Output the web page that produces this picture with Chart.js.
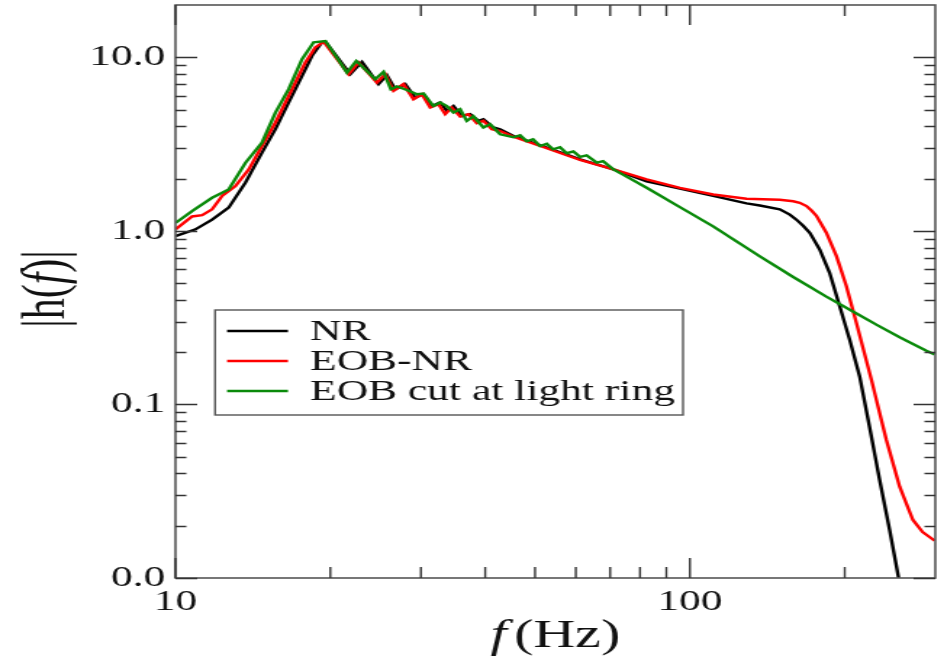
<!DOCTYPE html>
<html>
<head>
<meta charset="utf-8">
<script src="https://cdn.jsdelivr.net/npm/chart.js@4.4.0/dist/chart.umd.min.js"></script>
<style>
  html, body { margin: 0; padding: 0; background: #fff; overflow: hidden; }
  #wrap { width: 944px; height: 667px; }
  /* the original figure is stretched sideways, so the canvas is too */
  #chart { transform: scaleX(1.4501); transform-origin: 0 0; }
</style>
</head>
<body>
<div id="wrap"><canvas id="chart" width="651" height="667"></canvas></div>
<script>
// NR (numerical relativity)
const nrFreq = [10, 10.94, 11.78, 12.69, 13.68, 14.73, 15.64, 16.60, 17.62, 18.43,
  19.27, 19.56, 21.87, 23.04, 24.82, 25.77, 26.74, 27.97, 29.24, 30.35,
  31.51, 32.70, 33.69, 34.70, 36.03, 37.39, 38.80, 39.68, 41.50, 42.77,
  45.39, 52.69, 61.16, 71.02, 82.41, 95.63, 110.97, 128.86, 136.8, 149.5,
  156.4, 161.1, 166.0, 171.0, 178.8, 186.9, 195.5, 204.5, 213.8, 223.6,
  233.8, 244.5, 254.5];
const nrAmp = [0.933, 1.02, 1.16, 1.36, 1.90, 2.82, 3.85, 5.49, 7.81, 10.2,
  12.2, 12.3, 7.99, 9.41, 7.00, 7.88, 6.54, 7.00, 5.86, 6.12,
  5.24, 5.49, 4.91, 5.24, 4.59, 4.70, 4.30, 4.39, 3.94, 3.85,
  3.52, 3.02, 2.58, 2.26, 1.93, 1.75, 1.59, 1.44, 1.40, 1.33,
  1.24, 1.16, 1.07, 0.975, 0.781, 0.573, 0.368, 0.236, 0.145, 0.0734,
  0.0368, 0.0189, 0.01];

// EOB-NR
const eobFreq = [10, 10.77, 11.27, 11.78, 12.32, 13.08, 13.88, 14.73, 15.64, 16.85,
  17.88, 18.70, 19.41, 21.71, 22.69, 24.64, 25.57, 26.54, 27.75, 29.02,
  30.13, 31.27, 32.46, 33.44, 34.45, 35.76, 37.11, 38.52, 39.68, 41.21,
  42.77, 45.39, 52.69, 61.16, 71.02, 82.41, 95.63, 110.97, 128.86, 149.5,
  158.8, 163.5, 168.5, 172.3, 176.2, 184.2, 192.7, 201.5, 210.7, 225.3,
  240.9, 255.7, 271.4, 283.4, 299.1];
const eobAmp = [1.02, 1.21, 1.23, 1.33, 1.59, 1.81, 2.26, 3.08, 4.21, 6.55,
  9.33, 11.4, 12.3, 7.99, 9.33, 7.15, 7.99, 6.40, 7.00, 5.73,
  6.12, 5.13, 5.36, 4.70, 5.13, 4.55, 4.70, 4.17, 4.30, 3.85,
  3.76, 3.48, 2.99, 2.56, 2.26, 1.98, 1.77, 1.62, 1.53, 1.51,
  1.48, 1.45, 1.39, 1.31, 1.22, 0.975, 0.715, 0.48, 0.295, 0.139,
  0.0626, 0.0336, 0.0216, 0.0184, 0.0164];

// EOB cut at light ring
const cutFreq = [10, 10.77, 11.78, 12.69, 13.68, 14.73, 15.64, 16.60, 17.62, 18.56,
  19.56, 21.55, 22.46, 24.45, 25.38, 26.23, 26.95, 28.18, 29.47, 30.35,
  31.74, 32.70, 33.69, 34.70, 35.76, 36.84, 37.94, 39.68, 40.89, 42.77,
  45.39, 46.77, 48.19, 49.55, 51.13, 52.69, 54.2, 55.92, 57.6, 59.35,
  61.16, 63.0, 65.92, 67.8, 71.02, 74.26, 82.41, 95.63, 110.97, 136.8,
  158.8, 184.2, 207.5, 230.4, 255.7, 288.2, 299.1];
const cutAmp = [1.11, 1.30, 1.55, 1.73, 2.47, 3.22, 4.80, 6.55, 9.75, 12.2,
  12.4, 8.17, 9.53, 7.47, 8.24, 6.54, 6.79, 6.48, 6.12, 6.18,
  5.24, 5.49, 5.24, 4.80, 5.02, 4.30, 4.57, 3.94, 4.11, 3.60,
  3.46, 3.55, 3.28, 3.37, 3.08, 3.17, 2.95, 3.03, 2.80, 2.87,
  2.67, 2.72, 2.47, 2.52, 2.26, 2.10, 1.77, 1.37, 1.06, 0.712,
  0.542, 0.418, 0.343, 0.288, 0.244, 0.204, 0.194];

const seriesNames = ['NR', 'EOB-NR', 'EOB cut at light ring'];
const xTicks = [10, 100];
const xMinorTicks = [20, 30, 40, 50, 60, 70, 80, 90, 200];
const yTicks = [0.01, 0.1, 1, 10];
const xRange = [10, 300];
const yRange = [0.01, 20];

const SERIF = '"Liberation Serif", "DejaVu Serif", serif';

const toPoints = (fs, hs) => fs.map((f, i) => ({ x: f, y: hs[i] }));

// frame + inward tick marks on all four sides
const frameTicks = {
  id: 'frameTicks',
  afterDatasetsDraw(chart) {
    const { ctx, chartArea: a, scales: { x, y } } = chart;
    ctx.save();
    ctx.strokeStyle = '#555';
    ctx.lineWidth = 1.6;
    ctx.strokeRect(a.left, a.top, a.right - a.left, a.bottom - a.top);

    ctx.strokeStyle = '#333';
    ctx.lineWidth = 1.4;
    ctx.beginPath();
    const yMinor = [];
    yTicks.forEach(d => { for (let k = 2; k <= 9; k++) if (k * d < yRange[1]) yMinor.push(k * d); });
    const hTick = (v, len) => {
      const py = Math.round(y.getPixelForValue(v)) + 0.5;
      ctx.moveTo(a.left, py); ctx.lineTo(a.left + len, py);
      ctx.moveTo(a.right, py); ctx.lineTo(a.right - len, py);
    };
    yTicks.forEach(v => hTick(v, 15));
    yMinor.forEach(v => hTick(v, 7.5));
    const vTick = (v, len) => {
      const px = x.getPixelForValue(v);
      ctx.moveTo(px, a.bottom); ctx.lineTo(px, a.bottom - len);
      ctx.moveTo(px, a.top); ctx.lineTo(px, a.top + len);
    };
    xTicks.forEach(v => vTick(v, 20));
    xMinorTicks.forEach(v => vTick(v, 11));
    ctx.stroke();
    ctx.restore();
  }
};

// axis titles with the italic f
const axisTitles = {
  id: 'axisTitles',
  afterDraw(chart) {
    const { ctx, chartArea: a } = chart;
    ctx.save();
    ctx.fillStyle = '#111';
    ctx.textBaseline = 'middle';

    // x title
    const fI = 'italic 40px ' + SERIF, fN = '40px ' + SERIF;
    ctx.font = fI; const w1 = ctx.measureText('f').width;
    ctx.font = fN; const w2 = ctx.measureText('(Hz)').width;
    const gap = 5;
    let sx = (a.left + a.right) / 2 - (w1 + gap + w2) / 2;
    ctx.textAlign = 'left';
    ctx.font = fI; ctx.fillText('f', sx, 636);
    ctx.font = fN; ctx.fillText('(Hz)', sx + w1 + gap, 636);

    // y title
    const gI = 'italic 42px ' + SERIF, gN = '42px ' + SERIF;
    const parts = [['|h(', gN], ['f', gI], [')|', gN]];
    let tot = 0;
    parts.forEach(p => { ctx.font = p[1]; p.push(ctx.measureText(p[0]).width); tot += p[2]; });
    ctx.translate(33, 289);
    ctx.rotate(-Math.PI / 2);
    let cx = -tot / 2;
    parts.forEach(p => { ctx.font = p[1]; ctx.fillText(p[0], cx, 0); cx += p[2]; });
    ctx.restore();
  }
};

// boxed legend inside the plot
const legendBox = {
  id: 'legendBox',
  afterDraw(chart) {
    const { ctx } = chart;
    ctx.save();
    ctx.fillStyle = '#fff';
    ctx.fillRect(148.3, 310, 322.7, 105);
    ctx.strokeStyle = '#555';
    ctx.lineWidth = 1.4;
    ctx.strokeRect(148.3, 310, 322.7, 105);
    ctx.font = '30px ' + SERIF;
    ctx.textBaseline = 'middle';
    ctx.textAlign = 'left';
    chart.data.datasets.forEach((ds, i) => {
      const ly = 331 + i * 30;
      ctx.strokeStyle = ds.borderColor;
      ctx.lineWidth = 2.6;
      ctx.beginPath();
      ctx.moveTo(156.6, ly); ctx.lineTo(198.6, ly);
      ctx.stroke();
      ctx.fillStyle = '#111';
      ctx.fillText(ds.label, 213.8, ly + 1);
    });
    ctx.restore();
  }
};

new Chart(document.getElementById('chart'), {
  type: 'line',
  data: {
    datasets: [
      { label: seriesNames[0], data: toPoints(nrFreq, nrAmp), borderColor: '#000000', order: 3 },
      { label: seriesNames[1], data: toPoints(eobFreq, eobAmp), borderColor: '#ff0000', order: 2 },
      { label: seriesNames[2], data: toPoints(cutFreq, cutAmp), borderColor: '#0a8a0a', order: 1 },
    ],
  },
  options: {
    responsive: false,
    animation: false,
    layout: { padding: { top: 5, right: 6, left: 0, bottom: 0 } },
    elements: {
      line: { borderWidth: 2.4, tension: 0, fill: false },
      point: { radius: 0, hoverRadius: 0 },
    },
    plugins: { legend: { display: false }, tooltip: { enabled: false } },
    scales: {
      x: {
        type: 'logarithmic',
        min: xRange[0],
        max: xRange[1],
        grid: { display: false, drawTicks: false },
        border: { display: false },
        afterBuildTicks: (axis) => { axis.ticks = xTicks.map(v => ({ value: v })); },
        afterFit: (axis) => { axis.height = 89; axis.paddingLeft = 0; axis.paddingRight = 0; },
        ticks: {
          autoSkip: false,
          maxRotation: 0,
          padding: 6,
          color: '#111',
          font: { family: SERIF, size: 30 },
          callback: (v) => String(v),
        },
      },
      y: {
        type: 'logarithmic',
        min: yRange[0],
        max: yRange[1],
        grid: { display: false, drawTicks: false },
        border: { display: false },
        afterBuildTicks: (axis) => { axis.ticks = yTicks.map(v => ({ value: v })); },
        afterFit: (axis) => { axis.width = 121; axis.paddingTop = 0; axis.paddingBottom = 0; },
        ticks: {
          autoSkip: false,
          padding: 7,
          color: '#111',
          font: { family: SERIF, size: 30 },
          callback: (v) => Number(v).toFixed(1),
        },
      },
    },
  },
  plugins: [frameTicks, axisTitles, legendBox],
});
</script>
</body>
</html>
